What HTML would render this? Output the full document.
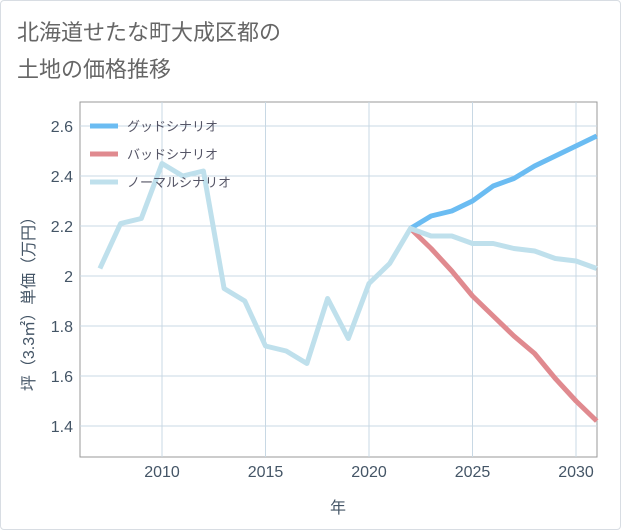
<!DOCTYPE html>
<html><head><meta charset="utf-8"><style>
body{margin:0;background:#fff;}
#card{position:absolute;left:0;top:0;width:619px;height:528px;border:1px solid #d8dde3;border-radius:4px;background:#fff;}
.t{font-family:"Liberation Sans","Noto Sans CJK JP",sans-serif;}
</style></head><body>
<div id="card"></div>
<svg id="chart" width="621" height="530" style="position:absolute;left:0;top:0">
<text class="t" x="17" y="40" font-size="22" fill="#666">北海道せたな町大成区都の</text>
<text class="t" x="17" y="77" font-size="22" fill="#666">土地の価格推移</text>
</svg>
<script>
const normalYears=[2007,2008,2009,2010,2011,2012,2013,2014,2015,2016,2017,2018,2019,2020,2021,2022,2023,2024,2025,2026,2027,2028,2029,2030,2031];
const normalVals=[2.03,2.21,2.23,2.45,2.40,2.42,1.95,1.90,1.72,1.70,1.65,1.91,1.75,1.97,2.05,2.19,2.16,2.16,2.13,2.13,2.11,2.10,2.07,2.06,2.03];
const futureYears=[2022,2023,2024,2025,2026,2027,2028,2029,2030,2031];
const goodVals=[2.19,2.24,2.26,2.30,2.36,2.39,2.44,2.48,2.52,2.56];
const badVals=[2.19,2.11,2.02,1.92,1.84,1.76,1.69,1.59,1.50,1.42];
const xTicks=[2010,2015,2020,2025,2030];
const yTicks=[1.4,1.6,1.8,2.0,2.2,2.4,2.6];
const yTickLabels=["1.4","1.6","1.8","2","2.2","2.4","2.6"];
const L=80,R=597,T=102,B=457;
const xs=y=>162+(y-2010)*20.7;
const ys=v=>276-(v-2.0)*250;
const svg=document.getElementById('chart');
const NS='http://www.w3.org/2000/svg';
function mk(tag,attrs,parent){const e=document.createElementNS(NS,tag);for(const k in attrs)e.setAttribute(k,attrs[k]);(parent||svg).appendChild(e);return e;}
const bg=mk('rect',{x:L,y:T,width:R-L,height:B-T,fill:'#fff',stroke:'#999','stroke-width':1});


xTicks.forEach(t=>{const l=mk('line',{x1:xs(t),x2:xs(t),y1:T,y2:B,stroke:'#c8d8e4','stroke-width':1});


const tx=mk('text',{x:xs(t),y:477,'text-anchor':'middle','font-size':16,fill:'#445566',class:'t'});tx.textContent=t;

});
yTicks.forEach((t,i)=>{const l=mk('line',{x1:L,x2:R,y1:ys(t),y2:ys(t),stroke:'#c8d8e4','stroke-width':1});


const tx=mk('text',{x:73,y:ys(t)+6,'text-anchor':'end','font-size':16,fill:'#445566',class:'t'});tx.textContent=yTickLabels[i];

});
function line(xv,yv,color,name){const p=mk('polyline',{points:xv.map((x,i)=>xs(x)+','+ys(yv[i])).join(' '),fill:'none',stroke:color,'stroke-width':5,'stroke-linejoin':'round'});

}
line(futureYears,goodVals,'#6bbcf2','good-scenario-line');
line(futureYears,badVals,'#e08a8f','bad-scenario-line');
line(normalYears,normalVals,'#bfe0ec','normal-scenario-line');
const leg=[['グッドシナリオ','#6bbcf2'],['バッドシナリオ','#e08a8f'],['ノーマルシナリオ','#bfe0ec']];
leg.forEach((d,i)=>{const y=126+i*28;const l=mk('line',{x1:90,x2:118,y1:y,y2:y,stroke:d[1],'stroke-width':5});


const tx=mk('text',{x:127,y:y+5,'font-size':13,fill:'#556',class:'t'});tx.textContent=d[0];

});
const xt=mk('text',{x:338,y:513,'text-anchor':'middle','font-size':16,fill:'#445566',class:'t'});xt.textContent='年';


const yt=mk('text',{x:0,y:0,'text-anchor':'middle','font-size':16,fill:'#445566',class:'t',transform:'translate(34,300) rotate(-90)'});yt.textContent='坪（3.3㎡）単価（万円）';


</script>
</body></html>
